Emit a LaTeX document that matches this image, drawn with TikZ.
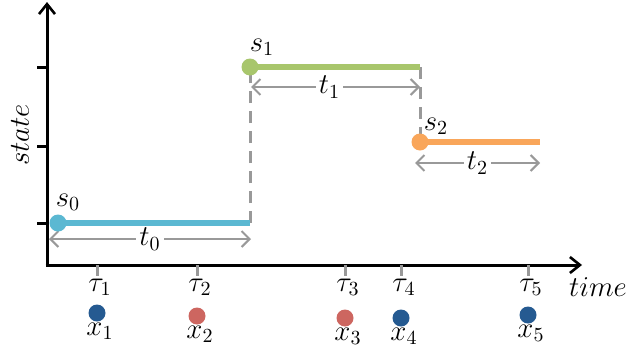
\documentclass[tikz,border=0pt]{standalone}
\usetikzlibrary{arrows.meta}
\definecolor{cblue}{HTML}{5BB8D2}
\definecolor{cgreen}{HTML}{A8C66C}
\definecolor{corange}{HTML}{F9A65A}
\definecolor{cdark}{HTML}{255A91}
\definecolor{cred}{HTML}{CD6660}
\definecolor{cgray}{HTML}{999999}
\tikzset{
  axis/.style={line width=1.5pt, -{Straight Barb[length=5pt,width=8pt,line width=1.3pt]}},
  seg/.style={line width=2.6pt},
  dot/.style={circle, fill=#1, inner sep=0pt, minimum size=8.5pt},
  dur/.style={cgray, line width=1pt, {Straight Barb[length=4pt,width=8pt,line width=1pt]}-{Straight Barb[length=4pt,width=8pt,line width=1pt]}},
  jump/.style={cgray, line width=1.5pt, dash pattern=on 6pt off 4pt},
  gtick/.style={cgray, line width=1.5pt},
  lbl/.style={font=\fontsize{14}{16}\selectfont, inner sep=1pt},
  durlbl/.style={lbl, text=black, fill=white, inner xsep=1.5pt, inner ysep=0pt}
}
\begin{document}
\begin{tikzpicture}[x=0.5pt,y=-0.5pt]
\useasboundingbox (0,0) rectangle (626,354);
% axes
\coordinate (O) at (47,265);
\coordinate (Ytop) at (47,2);
\coordinate (Xend) at (582,265);
\draw[axis] (O) -- (Ytop);
\draw[axis] ([xshift=-0.75pt]O) -- (Xend);
% y ticks
\foreach \y/\n in {67/a,146/b,223/c}{
  \coordinate (yt\n) at (47,\y);
  \draw[line width=1.5pt] (yt\n) -- ++(-10,0);
}
\node[lbl, rotate=90] (ylab) at (20,135) {$state$};
\node[lbl] (xlab) at (598,287) {$time$};
% durations
\coordinate (t0a) at (49,239);
\coordinate (t0b) at (251,239);
\coordinate (t1a) at (251,87);
\coordinate (t1b) at (420,87);
\coordinate (t2a) at (415,163);
\coordinate (t2b) at (540,163);
\draw[dur] (t0a) -- node[durlbl] (t0l) {$t_0$} (t0b);
\draw[dur] (t1a) -- node[durlbl, xshift=-3pt] (t1l) {$t_1$} (t1b);
\draw[dur] (t2a) -- node[durlbl] (t2l) {$t_2$} (t2b);
% states
\coordinate (s0e) at (250,223);
\coordinate (s1e) at (420,67);
\coordinate (s2e) at (540,142);
\draw[jump] (s0e) -- (250,67);
\draw[jump] (s1e) -- (420,142);
\draw[seg, cblue] (58,223) -- (s0e);
\draw[seg, cgreen] (250,67) -- (s1e);
\draw[seg, corange] (420,142) -- (s2e);
\node[dot=cblue] (s0) at (58,223) {};
\node[dot=cgreen] (s1) at (250,67) {};
\node[dot=corange] (s2) at (420,142) {};
\node[lbl] (s0l) at (68,202) {$s_0$};
\node[lbl] (s1l) at (262,47) {$s_1$};
\node[lbl] (s2l) at (436,126) {$s_2$};
% time ticks and observations
\foreach \x/\i/\yd/\c in {97/1/313/cdark,197/2/316/cred,345/3/318/cred,401/4/318/cdark,528/5/315/cdark}{
  \coordinate (tk\i) at (\x,265);
  \draw[gtick] (tk\i) -- ++(0,11);
  \node[lbl] (tau\i) at (\x+3,287) {$\tau_{\i}$};
  \node[dot=\c] (x\i) at (\x,\yd) {};
  \node[lbl] (xl\i) at (\x+3,\yd+18) {$x_{\i}$};
}
\end{tikzpicture}
\end{document}
